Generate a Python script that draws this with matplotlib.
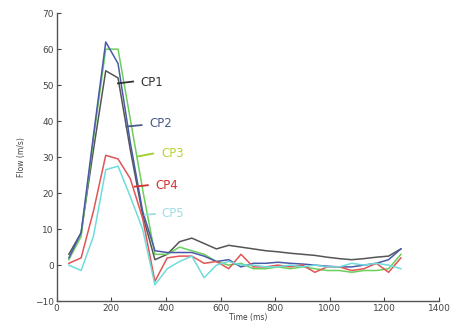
import matplotlib
matplotlib.use("Agg")
import matplotlib.pyplot as plt

# time axis (ms)
time_ms = [45, 90, 135, 180, 225, 270, 315, 360, 405, 450, 495, 540, 585, 630,
           675, 720, 765, 810, 855, 900, 945, 990, 1035, 1080, 1125, 1170, 1215, 1260]

cp1 = [3, 9, 32, 54, 52, 32, 14, 1.5, 3, 6.5, 7.5, 6, 4.5, 5.5,
       5, 4.5, 4, 3.7, 3.3, 3, 2.7, 2.2, 1.8, 1.5, 1.8, 2.2, 2.5, 4.5]
cp2 = [2, 9, 36, 62, 56, 34, 15, 4, 3.5, 3.5, 3.5, 2.5, 1, 1.5,
       -0.5, 0.5, 0.5, 0.8, 0.5, 0.3, 0, -0.3, -0.5, -0.5, 0, 0.5, 1.5, 4.5]
cp3 = [1.5, 8, 35, 60, 60, 40.5, 21, 3, 3, 5, 4, 3, 1, 0,
       0.5, -1, -1, -0.5, -1, -0.5, -1, -1.5, -1.5, -2, -1.5, -1.5, -1, 3]
cp4 = [0.5, 2, 15, 30.5, 29.5, 24, 13, -4.5, 2, 2.5, 2.5, 0.5, 1, -1,
       3, -0.5, -0.5, 0, -0.5, 0, -2, -0.5, -0.5, -1.5, -1, 0.5, -2, 2]
cp5 = [0, -1.5, 8, 26.5, 27.5, 19, 10, -5.5, -1, 1, 2.5, -3.5, 0, 1,
       0, 0, -0.5, -0.5, 0, -0.5, 0, -0.5, -0.5, 0.5, 0, 0.5, 0, -1]

names = ["CP1", "CP2", "CP3", "CP4", "CP5"]
line_colors = ["#555555", "#4a5aa8", "#6ccf5c", "#e05555", "#70dcdc"]
text_colors = ["#333333", "#4a5a8a", "#b8d430", "#d83030", "#a0dce4"]
# label text position and leader line (data coords)
label_xy = [(305, 50.8), (341, 39.3), (384, 31), (363, 22.2), (384, 14.2)]
leader = [((225, 280), (50.5, 51)), ((256, 311), (38.5, 38.9)),
          ((298, 353), (30.2, 31)), ((286, 334), (21.8, 22.2)),
          ((323, 360), (14, 14.2))]

fig = plt.figure(figsize=(4.56, 3.21), dpi=100)
ax = fig.add_axes([0.124, 0.062, 0.839, 0.897])

series = [cp1, cp3, cp2, cp4, cp5]
order = [0, 2, 1, 3, 4]
for s, i in zip(series, order):
    ax.plot(time_ms, s, color=line_colors[i], linewidth=1.1)

for i in range(5):
    (x0, x1), (y0, y1) = leader[i]
    ax.plot([x0, x1], [y0, y1], color=text_colors[i] if i != 2 else "#9ccf20", linewidth=1.3)
    ax.text(label_xy[i][0], label_xy[i][1], names[i], color=text_colors[i],
            fontsize=8.5, va="center", ha="left")

ax.set_xlim(0, 1400)
ax.set_ylim(-10, 70)
ax.set_xticks([0, 200, 400, 600, 800, 1000, 1200, 1400])
ax.set_yticks([-10, 0, 10, 20, 30, 40, 50, 60, 70])
ax.tick_params(direction="in", length=3, labelsize=6.5, colors="#444444", pad=2)
for side in ["top", "right"]:
    ax.spines[side].set_visible(False)
for side in ["left", "bottom"]:
    ax.spines[side].set_color("#555555")
    ax.spines[side].set_linewidth(1.0)

ax.set_xlabel("Time (ms)", fontsize=5.5, color="#444444", labelpad=0)
ax.set_ylabel("Flow (m/s)", fontsize=5.5, color="#444444", labelpad=6)

fig.savefig("out.png", dpi=100)
